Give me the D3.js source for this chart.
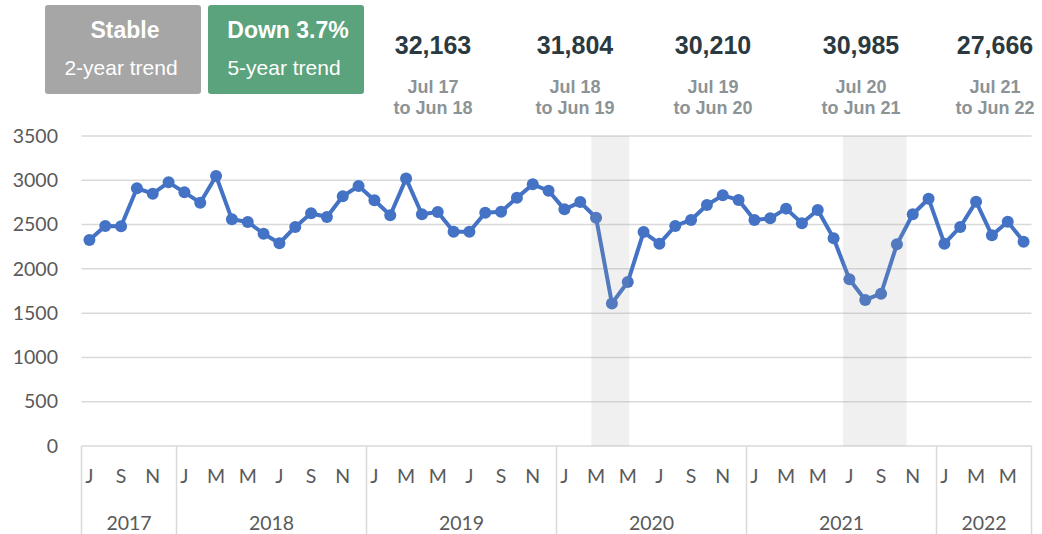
<!DOCTYPE html>
<html>
<head>
<meta charset="utf-8">
<script src="https://cdn.jsdelivr.net/npm/d3@7"></script>
<style>
  body { margin: 0; background: #fff; }
  svg { display: block; }
</style>
</head>
<body>
<svg id="canvas"></svg>
<script>
// monthly values, Jul 2017 .. Jun 2022
let values = [
  2325, 2484, 2480, 2910, 2849, 2977, 2864, 2747, 3049, 2559, 2529, 2397,
  2289, 2473, 2627, 2586, 2819, 2936, 2774, 2605, 3019, 2616, 2642, 2420,
  2419, 2634, 2645, 2803, 2954, 2882, 2672, 2754, 2577, 1610, 1851, 2415,
  2284, 2484, 2552, 2721, 2830, 2778, 2552, 2571, 2680, 2515, 2665, 2345,
  1882, 1649, 1720, 2277, 2616, 2792, 2284, 2473, 2759, 2379, 2533, 2307
];
let startMonth = new Date(2017, 6, 1);

let yTicks = [0, 500, 1000, 1500, 2000, 2500, 3000, 3500];

// shaded periods, in month index units
let shaded = [[31.7, 34.1], [47.6, 51.6]];

let trendLabels = ['Stable', 'Down 3.7%'];
let trendSubs = ['2-year trend', '5-year trend'];

let yearTotals = ['32,163', '31,804', '30,210', '30,985', '27,666'];
let periodFrom = ['Jul 17', 'Jul 18', 'Jul 19', 'Jul 20', 'Jul 21'];
let periodTo = ['to Jun 18', 'to Jun 19', 'to Jun 20', 'to Jun 21', 'to Jun 22'];

let width = 1042;
let height = 534;
let plotLeft = 81.5;
let plotRight = 1031.5;
let plotTop = 136;
let plotBottom = 446;
let totalsX = [433, 575, 713, 861, 995];

let axisFont = 'Lato, "Open Sans", sans-serif';
let headFont = '"Liberation Sans", Arial, sans-serif';

let months = values.map((v, i) => d3.timeMonth.offset(startMonth, i));

let svg = d3.select('#canvas')
  .attr('width', width)
  .attr('height', height);

let xScale = d3.scaleLinear()
  .domain([-0.5, values.length - 0.5])
  .range([plotLeft, plotRight]);

let yScale = d3.scaleLinear()
  .domain([0, 3500])
  .range([plotBottom, plotTop]);

// gridlines
svg.append('g')
  .selectAll('line')
  .data(yTicks)
  .enter()
  .append('line')
  .attr('x1', plotLeft)
  .attr('x2', plotRight)
  .attr('y1', d => yScale(d))
  .attr('y2', d => yScale(d))
  .attr('stroke', '#d9d9d9')
  .attr('stroke-width', 1.5);

// y axis labels
let yAxis = d3.axisLeft(yScale)
  .tickValues(yTicks)
  .tickSize(0)
  .tickPadding(0)
  .tickFormat(d3.format('d'));

let yg = svg.append('g')
  .attr('transform', `translate(58, 0)`)
  .call(yAxis);
yg.select('.domain').remove();
yg.selectAll('text')
  .attr('font-family', axisFont)
  .attr('font-size', 19.5)
  .attr('fill', '#595959');

// x axis: year dividers
let dividers = [-0.5];
months.forEach((m, i) => { if (i > 0 && m.getMonth() === 0) dividers.push(i - 0.5) });
dividers.push(values.length - 0.5);

svg.append('g')
  .selectAll('line')
  .data(dividers)
  .enter()
  .append('line')
  .attr('x1', d => xScale(d))
  .attr('x2', d => xScale(d))
  .attr('y1', plotBottom)
  .attr('y2', height)
  .attr('stroke', '#d9d9d9')
  .attr('stroke-width', 1.5);

// month letters (every other month)
svg.append('g')
  .selectAll('text')
  .data(months.filter((m, i) => i % 2 === 0))
  .enter()
  .append('text')
  .attr('x', d => xScale(months.indexOf(d)))
  .attr('y', 483)
  .attr('text-anchor', 'middle')
  .attr('font-family', axisFont)
  .attr('font-size', 19.5)
  .attr('fill', '#595959')
  .text(d => d3.timeFormat('%b')(d)[0]);

// year labels
let years = d3.range(dividers.length - 1).map(k => ({
  x: (xScale(dividers[k]) + xScale(dividers[k + 1])) / 2,
  year: months[Math.ceil(dividers[k])].getFullYear()
}));

svg.append('g')
  .selectAll('text')
  .data(years)
  .enter()
  .append('text')
  .attr('x', d => d.x)
  .attr('y', 530)
  .attr('text-anchor', 'middle')
  .attr('font-family', axisFont)
  .attr('font-size', 19.5)
  .attr('fill', '#595959')
  .text(d => d.year);

// line + dots
let line = d3.line()
  .x((d, i) => xScale(i))
  .y(d => yScale(d));

svg.append('path')
  .datum(values)
  .attr('d', line)
  .attr('fill', 'none')
  .attr('stroke', '#4472c4')
  .attr('stroke-width', 4)
  .attr('stroke-linejoin', 'round');

svg.append('g')
  .selectAll('circle')
  .data(values)
  .enter()
  .append('circle')
  .attr('cx', (d, i) => xScale(i))
  .attr('cy', d => yScale(d))
  .attr('r', 6)
  .attr('fill', '#4472c4');

// shaded periods drawn on top
svg.append('g')
  .selectAll('rect')
  .data(shaded)
  .enter()
  .append('rect')
  .attr('x', d => xScale(d[0]))
  .attr('width', d => xScale(d[1]) - xScale(d[0]))
  .attr('y', yScale(3500))
  .attr('height', yScale(0) - yScale(3500))
  .attr('fill', '#a0a0a0')
  .attr('opacity', 0.16);

// trend boxes
let boxColors = ['#a6a6a6', '#5ba37c'];
let boxes = svg.append('g')
  .selectAll('g')
  .data(trendLabels)
  .enter()
  .append('g')
  .attr('transform', (d, i) => `translate(${45 + i * 163}, 5)`);

boxes.append('rect')
  .attr('width', 156)
  .attr('height', 89)
  .attr('rx', 3)
  .attr('fill', (d, i) => boxColors[i]);

boxes.append('text')
  .attr('x', 80)
  .attr('y', 33)
  .attr('text-anchor', 'middle')
  .attr('font-family', headFont)
  .attr('font-weight', 'bold')
  .attr('font-size', 23)
  .attr('fill', '#fff')
  .text(d => d);

boxes.append('text')
  .attr('x', 76)
  .attr('y', 70)
  .attr('text-anchor', 'middle')
  .attr('font-family', headFont)
  .attr('font-size', 21)
  .attr('fill', '#fff')
  .text((d, i) => trendSubs[i]);

// yearly totals
let totals = svg.append('g')
  .selectAll('g')
  .data(yearTotals)
  .enter()
  .append('g')
  .attr('transform', (d, i) => `translate(${totalsX[i]}, 0)`);

totals.append('text')
  .attr('y', 54)
  .attr('text-anchor', 'middle')
  .attr('font-family', headFont)
  .attr('font-weight', 'bold')
  .attr('font-size', 25)
  .attr('fill', '#2b3940')
  .text(d => d);

totals.append('text')
  .attr('y', 93)
  .attr('text-anchor', 'middle')
  .attr('font-family', headFont)
  .attr('font-weight', 'bold')
  .attr('font-size', 18)
  .attr('fill', '#8c9396')
  .text((d, i) => periodFrom[i]);

totals.append('text')
  .attr('y', 114)
  .attr('text-anchor', 'middle')
  .attr('font-family', headFont)
  .attr('font-weight', 'bold')
  .attr('font-size', 18)
  .attr('fill', '#8c9396')
  .text((d, i) => periodTo[i]);
</script>
</body>
</html>
